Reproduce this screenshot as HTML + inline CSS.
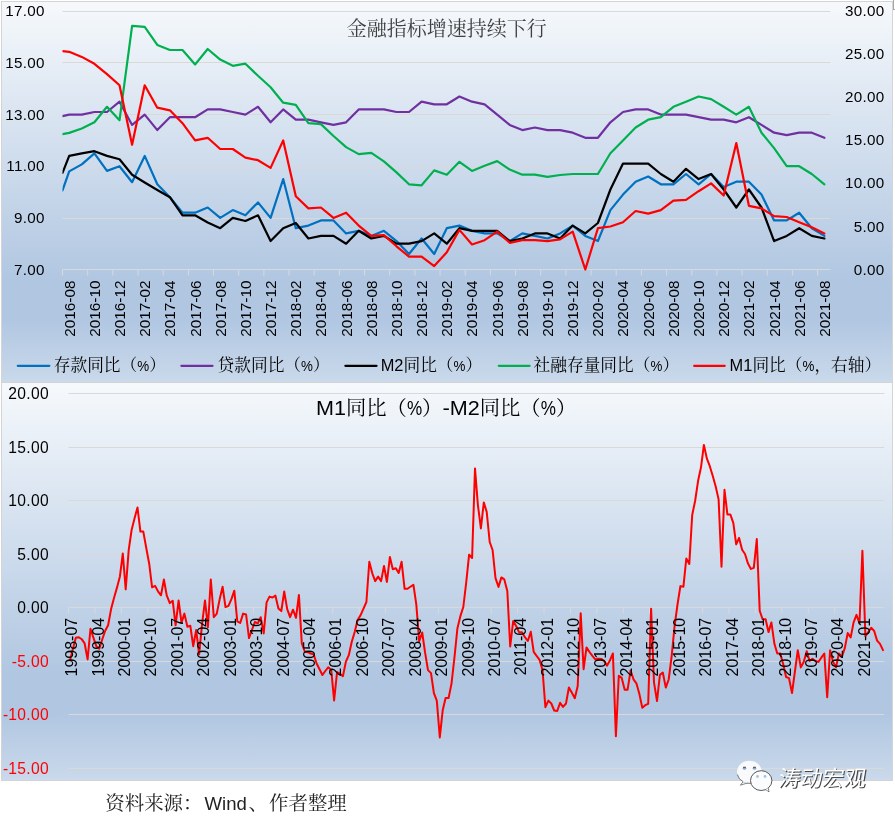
<!DOCTYPE html>
<html lang="zh-CN"><head><meta charset="utf-8"><title>金融指标增速持续下行</title>
<style>
html,body{margin:0;padding:0;background:#fff;}
body{width:895px;height:817px;position:relative;overflow:hidden;font-family:"Liberation Sans","Noto Sans CJK SC",sans-serif;}
.chart{position:absolute;left:1px;width:890px;border:1px solid #d4d4d4;
 background:linear-gradient(to bottom,#f6f9fc 0%,#b0c6e1 74%,#b0c6e1 83%,#cad9eb 100%);}
#c1{top:1px;height:380px;}
#c2{top:383px;height:397px;border-top:none;}
svg{position:absolute;left:0;top:0;}
.ax{font-family:"Liberation Sans",sans-serif;font-size:15.2px;fill:#000;}
.ay{letter-spacing:.3px;}
.neg{fill:#ff0000;}
.cj{font-family:"Liberation Serif","Noto Serif CJK SC",serif;}
.ln{fill:none;stroke-linejoin:round;stroke-linecap:round;}
</style></head><body>
<div class="chart" id="c1"></div>
<div class="chart" id="c2"></div>
<svg width="895" height="817" viewBox="0 0 895 817">

<rect x="893.5" y="-1" width="4" height="10.5" fill="#fff" stroke="#a6a6a6" stroke-width="1"/>
<line x1="62.5" y1="11.5" x2="830.4" y2="11.5" stroke="#d9d9d9" stroke-width="1"/>
<line x1="62.5" y1="62.5" x2="830.4" y2="62.5" stroke="#d9d9d9" stroke-width="1"/>
<line x1="62.5" y1="114.5" x2="830.4" y2="114.5" stroke="#d9d9d9" stroke-width="1"/>
<line x1="62.5" y1="166.5" x2="830.4" y2="166.5" stroke="#d9d9d9" stroke-width="1"/>
<line x1="62.5" y1="218.5" x2="830.4" y2="218.5" stroke="#d9d9d9" stroke-width="1"/>
<line x1="62.5" y1="269.5" x2="830.4" y2="269.5" stroke="#d9d9d9" stroke-width="1"/>
<line x1="62.5" y1="269.5" x2="62.5" y2="275.5" stroke="#d9d9d9" stroke-width="1"/>
<line x1="87.7" y1="269.5" x2="87.7" y2="275.5" stroke="#d9d9d9" stroke-width="1"/>
<line x1="112.8" y1="269.5" x2="112.8" y2="275.5" stroke="#d9d9d9" stroke-width="1"/>
<line x1="138.0" y1="269.5" x2="138.0" y2="275.5" stroke="#d9d9d9" stroke-width="1"/>
<line x1="163.2" y1="269.5" x2="163.2" y2="275.5" stroke="#d9d9d9" stroke-width="1"/>
<line x1="188.4" y1="269.5" x2="188.4" y2="275.5" stroke="#d9d9d9" stroke-width="1"/>
<line x1="213.5" y1="269.5" x2="213.5" y2="275.5" stroke="#d9d9d9" stroke-width="1"/>
<line x1="238.7" y1="269.5" x2="238.7" y2="275.5" stroke="#d9d9d9" stroke-width="1"/>
<line x1="263.9" y1="269.5" x2="263.9" y2="275.5" stroke="#d9d9d9" stroke-width="1"/>
<line x1="289.0" y1="269.5" x2="289.0" y2="275.5" stroke="#d9d9d9" stroke-width="1"/>
<line x1="314.2" y1="269.5" x2="314.2" y2="275.5" stroke="#d9d9d9" stroke-width="1"/>
<line x1="339.4" y1="269.5" x2="339.4" y2="275.5" stroke="#d9d9d9" stroke-width="1"/>
<line x1="364.5" y1="269.5" x2="364.5" y2="275.5" stroke="#d9d9d9" stroke-width="1"/>
<line x1="389.7" y1="269.5" x2="389.7" y2="275.5" stroke="#d9d9d9" stroke-width="1"/>
<line x1="414.9" y1="269.5" x2="414.9" y2="275.5" stroke="#d9d9d9" stroke-width="1"/>
<line x1="440.1" y1="269.5" x2="440.1" y2="275.5" stroke="#d9d9d9" stroke-width="1"/>
<line x1="465.2" y1="269.5" x2="465.2" y2="275.5" stroke="#d9d9d9" stroke-width="1"/>
<line x1="490.4" y1="269.5" x2="490.4" y2="275.5" stroke="#d9d9d9" stroke-width="1"/>
<line x1="515.6" y1="269.5" x2="515.6" y2="275.5" stroke="#d9d9d9" stroke-width="1"/>
<line x1="540.7" y1="269.5" x2="540.7" y2="275.5" stroke="#d9d9d9" stroke-width="1"/>
<line x1="565.9" y1="269.5" x2="565.9" y2="275.5" stroke="#d9d9d9" stroke-width="1"/>
<line x1="591.1" y1="269.5" x2="591.1" y2="275.5" stroke="#d9d9d9" stroke-width="1"/>
<line x1="616.2" y1="269.5" x2="616.2" y2="275.5" stroke="#d9d9d9" stroke-width="1"/>
<line x1="641.4" y1="269.5" x2="641.4" y2="275.5" stroke="#d9d9d9" stroke-width="1"/>
<line x1="666.6" y1="269.5" x2="666.6" y2="275.5" stroke="#d9d9d9" stroke-width="1"/>
<line x1="691.8" y1="269.5" x2="691.8" y2="275.5" stroke="#d9d9d9" stroke-width="1"/>
<line x1="716.9" y1="269.5" x2="716.9" y2="275.5" stroke="#d9d9d9" stroke-width="1"/>
<line x1="742.1" y1="269.5" x2="742.1" y2="275.5" stroke="#d9d9d9" stroke-width="1"/>
<line x1="767.3" y1="269.5" x2="767.3" y2="275.5" stroke="#d9d9d9" stroke-width="1"/>
<line x1="792.4" y1="269.5" x2="792.4" y2="275.5" stroke="#d9d9d9" stroke-width="1"/>
<line x1="817.6" y1="269.5" x2="817.6" y2="275.5" stroke="#d9d9d9" stroke-width="1"/>
<text class="ax ay" x="44.7" y="16.3" text-anchor="end">17.00</text>
<text class="ax ay" x="44.7" y="67.9" text-anchor="end">15.00</text>
<text class="ax ay" x="44.7" y="119.6" text-anchor="end">13.00</text>
<text class="ax ay" x="44.7" y="171.2" text-anchor="end">11.00</text>
<text class="ax ay" x="44.7" y="222.9" text-anchor="end">9.00</text>
<text class="ax ay" x="44.7" y="274.5" text-anchor="end">7.00</text>
<text class="ax ay" x="884.6" y="16.3" text-anchor="end">30.00</text>
<text class="ax ay" x="884.6" y="59.3" text-anchor="end">25.00</text>
<text class="ax ay" x="884.6" y="102.4" text-anchor="end">20.00</text>
<text class="ax ay" x="884.6" y="145.4" text-anchor="end">15.00</text>
<text class="ax ay" x="884.6" y="188.4" text-anchor="end">10.00</text>
<text class="ax ay" x="884.6" y="231.5" text-anchor="end">5.00</text>
<text class="ax ay" x="884.6" y="274.5" text-anchor="end">0.00</text>
<text class="ax" style="font-size:15.3px" transform="translate(74.6,280.6) rotate(-90)" text-anchor="end">2016-08</text>
<text class="ax" style="font-size:15.3px" transform="translate(99.8,280.6) rotate(-90)" text-anchor="end">2016-10</text>
<text class="ax" style="font-size:15.3px" transform="translate(124.9,280.6) rotate(-90)" text-anchor="end">2016-12</text>
<text class="ax" style="font-size:15.3px" transform="translate(150.1,280.6) rotate(-90)" text-anchor="end">2017-02</text>
<text class="ax" style="font-size:15.3px" transform="translate(175.3,280.6) rotate(-90)" text-anchor="end">2017-04</text>
<text class="ax" style="font-size:15.3px" transform="translate(200.5,280.6) rotate(-90)" text-anchor="end">2017-06</text>
<text class="ax" style="font-size:15.3px" transform="translate(225.6,280.6) rotate(-90)" text-anchor="end">2017-08</text>
<text class="ax" style="font-size:15.3px" transform="translate(250.8,280.6) rotate(-90)" text-anchor="end">2017-10</text>
<text class="ax" style="font-size:15.3px" transform="translate(276.0,280.6) rotate(-90)" text-anchor="end">2017-12</text>
<text class="ax" style="font-size:15.3px" transform="translate(301.2,280.6) rotate(-90)" text-anchor="end">2018-02</text>
<text class="ax" style="font-size:15.3px" transform="translate(326.3,280.6) rotate(-90)" text-anchor="end">2018-04</text>
<text class="ax" style="font-size:15.3px" transform="translate(351.5,280.6) rotate(-90)" text-anchor="end">2018-06</text>
<text class="ax" style="font-size:15.3px" transform="translate(376.7,280.6) rotate(-90)" text-anchor="end">2018-08</text>
<text class="ax" style="font-size:15.3px" transform="translate(401.9,280.6) rotate(-90)" text-anchor="end">2018-10</text>
<text class="ax" style="font-size:15.3px" transform="translate(427.0,280.6) rotate(-90)" text-anchor="end">2018-12</text>
<text class="ax" style="font-size:15.3px" transform="translate(452.2,280.6) rotate(-90)" text-anchor="end">2019-02</text>
<text class="ax" style="font-size:15.3px" transform="translate(477.4,280.6) rotate(-90)" text-anchor="end">2019-04</text>
<text class="ax" style="font-size:15.3px" transform="translate(502.6,280.6) rotate(-90)" text-anchor="end">2019-06</text>
<text class="ax" style="font-size:15.3px" transform="translate(527.7,280.6) rotate(-90)" text-anchor="end">2019-08</text>
<text class="ax" style="font-size:15.3px" transform="translate(552.9,280.6) rotate(-90)" text-anchor="end">2019-10</text>
<text class="ax" style="font-size:15.3px" transform="translate(578.1,280.6) rotate(-90)" text-anchor="end">2019-12</text>
<text class="ax" style="font-size:15.3px" transform="translate(603.3,280.6) rotate(-90)" text-anchor="end">2020-02</text>
<text class="ax" style="font-size:15.3px" transform="translate(628.4,280.6) rotate(-90)" text-anchor="end">2020-04</text>
<text class="ax" style="font-size:15.3px" transform="translate(653.6,280.6) rotate(-90)" text-anchor="end">2020-06</text>
<text class="ax" style="font-size:15.3px" transform="translate(678.8,280.6) rotate(-90)" text-anchor="end">2020-08</text>
<text class="ax" style="font-size:15.3px" transform="translate(704.0,280.6) rotate(-90)" text-anchor="end">2020-10</text>
<text class="ax" style="font-size:15.3px" transform="translate(729.1,280.6) rotate(-90)" text-anchor="end">2020-12</text>
<text class="ax" style="font-size:15.3px" transform="translate(754.3,280.6) rotate(-90)" text-anchor="end">2021-02</text>
<text class="ax" style="font-size:15.3px" transform="translate(779.5,280.6) rotate(-90)" text-anchor="end">2021-04</text>
<text class="ax" style="font-size:15.3px" transform="translate(804.6,280.6) rotate(-90)" text-anchor="end">2021-06</text>
<text class="ax" style="font-size:15.3px" transform="translate(829.8,280.6) rotate(-90)" text-anchor="end">2021-08</text>
<clipPath id="cp1"><rect x="62.5" y="0" width="800" height="300"/></clipPath><g clip-path="url(#cp1)">
<polyline class="ln" stroke="#0070c0" stroke-width="2.2" points="62.5,190.5 69.2,171.4 81.8,164.4 94.4,153.3 107.0,170.9 119.5,166.2 132.1,182.2 144.7,155.9 157.3,184.3 169.9,197.2 182.5,212.7 195.1,212.7 207.7,207.5 220.2,217.9 232.8,210.1 245.4,215.3 258.0,202.4 270.6,217.9 283.2,179.1 295.8,228.2 308.4,225.6 320.9,220.4 333.5,220.4 346.1,233.4 358.7,230.8 371.3,235.9 383.9,230.8 396.5,241.1 409.0,254.0 421.6,238.5 434.2,254.0 446.8,228.2 459.4,225.6 472.0,230.8 484.6,233.4 497.2,233.4 509.7,241.1 522.3,233.4 534.9,235.9 547.5,238.5 560.1,233.4 572.7,225.6 585.3,235.9 597.9,241.1 610.4,210.1 623.0,194.6 635.6,181.7 648.2,176.5 660.8,184.3 673.4,184.3 686.0,174.0 698.6,184.3 711.1,174.0 723.7,186.9 736.3,181.7 748.9,181.7 761.5,194.6 774.1,220.4 786.7,220.4 799.2,212.7 811.8,228.2 824.4,235.9"/>
<polyline class="ln" stroke="#7030a0" stroke-width="2.2" points="62.5,116.1 69.2,114.6 81.8,114.6 94.4,112.0 107.0,112.0 119.5,101.7 132.1,124.9 144.7,114.6 157.3,130.1 169.9,117.2 182.5,117.2 195.1,117.2 207.7,109.4 220.2,109.4 232.8,112.0 245.4,114.6 258.0,106.8 270.6,122.3 283.2,109.4 295.8,119.7 308.4,119.7 320.9,122.3 333.5,124.9 346.1,122.3 358.7,109.4 371.3,109.4 383.9,109.4 396.5,112.0 409.0,112.0 421.6,101.7 434.2,104.3 446.8,104.3 459.4,96.5 472.0,101.7 484.6,104.3 497.2,114.6 509.7,124.9 522.3,130.1 534.9,127.5 547.5,130.1 560.1,130.1 572.7,132.7 585.3,137.8 597.9,137.8 610.4,122.3 623.0,112.0 635.6,109.4 648.2,109.4 660.8,114.6 673.4,114.6 686.0,114.6 698.6,117.2 711.1,119.7 723.7,119.7 736.3,122.3 748.9,117.2 761.5,124.9 774.1,132.7 786.7,135.2 799.2,132.7 811.8,132.7 824.4,137.8"/>
<polyline class="ln" stroke="#000000" stroke-width="2.2" points="62.5,172.9 69.2,155.9 81.8,153.3 94.4,151.2 107.0,155.9 119.5,159.2 132.1,174.7 144.7,182.5 157.3,190.0 169.9,197.2 182.5,215.3 195.1,215.3 207.7,222.5 220.2,228.2 232.8,217.9 245.4,221.0 258.0,215.3 270.6,241.1 283.2,228.2 295.8,223.0 308.4,238.5 320.9,235.9 333.5,235.9 346.1,243.7 358.7,230.8 371.3,238.5 383.9,235.9 396.5,243.7 409.0,243.7 421.6,241.1 434.2,233.4 446.8,243.7 459.4,228.2 472.0,230.8 484.6,230.8 497.2,230.8 509.7,241.1 522.3,238.5 534.9,233.4 547.5,233.4 560.1,238.5 572.7,225.6 585.3,233.4 597.9,223.0 610.4,189.5 623.0,163.6 635.6,163.6 648.2,163.6 660.8,174.0 673.4,181.7 686.0,168.8 698.6,179.1 711.1,174.0 723.7,189.5 736.3,207.5 748.9,189.5 761.5,207.5 774.1,241.1 786.7,235.9 799.2,228.2 811.8,235.9 824.4,238.5"/>
<polyline class="ln" stroke="#00b050" stroke-width="2.2" points="62.5,134.2 69.2,132.9 81.8,128.5 94.4,122.3 107.0,106.8 119.5,120.3 132.1,25.8 144.7,26.8 157.3,44.9 169.9,50.0 182.5,50.0 195.1,64.5 207.7,49.0 220.2,59.6 232.8,65.8 245.4,63.7 258.0,75.8 270.6,87.2 283.2,102.7 295.8,104.8 308.4,123.1 320.9,124.1 333.5,136.0 346.1,147.1 358.7,154.1 371.3,152.8 383.9,161.3 396.5,172.4 409.0,184.3 421.6,185.3 434.2,170.4 446.8,174.7 459.4,161.8 472.0,170.9 484.6,165.7 497.2,161.1 509.7,169.6 522.3,174.7 534.9,174.7 547.5,176.8 560.1,175.0 572.7,174.0 585.3,174.0 597.9,174.0 610.4,153.3 623.0,140.4 635.6,127.5 648.2,119.7 660.8,117.2 673.4,106.8 686.0,101.7 698.6,96.5 711.1,99.1 723.7,106.8 736.3,114.6 748.9,106.8 761.5,132.7 774.1,148.1 786.7,166.2 799.2,166.2 811.8,174.0 824.4,184.3"/>
<polyline class="ln" stroke="#ff0000" stroke-width="2.2" points="62.5,51.1 69.2,51.8 81.8,56.9 94.4,63.8 107.0,74.1 119.5,85.3 132.1,144.7 144.7,85.3 157.3,107.7 169.9,110.3 182.5,123.2 195.1,140.4 207.7,137.8 220.2,149.0 232.8,149.0 245.4,157.6 258.0,160.2 270.6,167.9 283.2,140.4 295.8,196.3 308.4,208.4 320.9,207.5 333.5,217.9 346.1,212.7 358.7,225.6 371.3,235.9 383.9,235.1 396.5,246.3 409.0,256.6 421.6,256.6 434.2,266.1 446.8,252.3 459.4,229.9 472.0,244.5 484.6,240.2 497.2,231.6 509.7,242.8 522.3,240.2 534.9,240.2 547.5,241.1 560.1,239.4 572.7,231.6 585.3,269.5 597.9,228.2 610.4,226.5 623.0,222.2 635.6,211.0 648.2,213.6 660.8,210.1 673.4,200.6 686.0,199.8 698.6,191.2 711.1,183.4 723.7,195.5 736.3,143.0 748.9,205.8 761.5,208.4 774.1,216.1 786.7,217.0 799.2,222.2 811.8,227.3 824.4,233.4"/>
</g>
<text class="cj" x="446.8" y="35.6" font-size="20" fill="#404040" text-anchor="middle">金融指标增速持续下行</text>
<line x1="17.8" y1="365.8" x2="49.3" y2="365.8" stroke="#0070c0" stroke-width="2.3" stroke-linecap="round"/>
<text class="cj" x="53.8" y="371.3" font-size="16.70" fill="#000">存款同比（</text>
<text x="137.3" y="371.3" font-family='"Liberation Sans",sans-serif' font-size="15.00" fill="#000" textLength="11.9" lengthAdjust="spacingAndGlyphs">%</text>
<text class="cj" x="149.2" y="371.3" font-size="16.70" fill="#000">）</text>
<line x1="181.4" y1="365.8" x2="212.5" y2="365.8" stroke="#7030a0" stroke-width="2.3" stroke-linecap="round"/>
<text class="cj" x="217.6" y="371.3" font-size="16.70" fill="#000">贷款同比（</text>
<text x="301.1" y="371.3" font-family='"Liberation Sans",sans-serif' font-size="15.00" fill="#000" textLength="11.9" lengthAdjust="spacingAndGlyphs">%</text>
<text class="cj" x="313.0" y="371.3" font-size="16.70" fill="#000">）</text>
<line x1="345.4" y1="365.8" x2="376.5" y2="365.8" stroke="#000000" stroke-width="2.3" stroke-linecap="round"/>
<text x="380.7" y="371.3" font-family='"Liberation Sans",sans-serif' font-size="15.60" fill="#000" textLength="22.8" lengthAdjust="spacingAndGlyphs">M2</text>
<text class="cj" x="403.5" y="371.3" font-size="16.70" fill="#000">同比（</text>
<text x="453.6" y="371.3" font-family='"Liberation Sans",sans-serif' font-size="15.00" fill="#000" textLength="11.9" lengthAdjust="spacingAndGlyphs">%</text>
<text class="cj" x="465.5" y="371.3" font-size="16.70" fill="#000">）</text>
<line x1="498.8" y1="365.8" x2="529.6" y2="365.8" stroke="#00b050" stroke-width="2.3" stroke-linecap="round"/>
<text class="cj" x="533.6" y="371.3" font-size="16.70" fill="#000">社融存量同比（</text>
<text x="650.5" y="371.3" font-family='"Liberation Sans",sans-serif' font-size="15.00" fill="#000" textLength="11.9" lengthAdjust="spacingAndGlyphs">%</text>
<text class="cj" x="662.4" y="371.3" font-size="16.70" fill="#000">）</text>
<line x1="694.2" y1="365.8" x2="724.7" y2="365.8" stroke="#ff0000" stroke-width="2.3" stroke-linecap="round"/>
<text x="729.6" y="371.3" font-family='"Liberation Sans",sans-serif' font-size="15.60" fill="#000" textLength="22.8" lengthAdjust="spacingAndGlyphs">M1</text>
<text class="cj" x="752.4" y="371.3" font-size="16.70" fill="#000">同比（</text>
<text x="802.5" y="371.3" font-family='"Liberation Sans",sans-serif' font-size="15.00" fill="#000" textLength="11.9" lengthAdjust="spacingAndGlyphs">%</text>
<text class="cj" x="814.4" y="371.3" font-size="16.70" fill="#000">，右轴）</text>
<line x1="68.5" y1="393.5" x2="884.3" y2="393.5" stroke="#d9d9d9" stroke-width="1"/>
<line x1="68.5" y1="447.5" x2="884.3" y2="447.5" stroke="#d9d9d9" stroke-width="1"/>
<line x1="68.5" y1="500.5" x2="884.3" y2="500.5" stroke="#d9d9d9" stroke-width="1"/>
<line x1="68.5" y1="554.5" x2="884.3" y2="554.5" stroke="#d9d9d9" stroke-width="1"/>
<line x1="68.5" y1="661.5" x2="884.3" y2="661.5" stroke="#d9d9d9" stroke-width="1"/>
<line x1="68.5" y1="714.5" x2="884.3" y2="714.5" stroke="#d9d9d9" stroke-width="1"/>
<line x1="68.5" y1="768.5" x2="884.3" y2="768.5" stroke="#d9d9d9" stroke-width="1"/>
<line x1="68.5" y1="607.5" x2="884.3" y2="607.5" stroke="#d9d9d9" stroke-width="1"/>
<line x1="68.5" y1="607.5" x2="68.5" y2="613.5" stroke="#d9d9d9" stroke-width="1"/>
<line x1="94.9" y1="607.5" x2="94.9" y2="613.5" stroke="#d9d9d9" stroke-width="1"/>
<line x1="121.3" y1="607.5" x2="121.3" y2="613.5" stroke="#d9d9d9" stroke-width="1"/>
<line x1="147.8" y1="607.5" x2="147.8" y2="613.5" stroke="#d9d9d9" stroke-width="1"/>
<line x1="174.2" y1="607.5" x2="174.2" y2="613.5" stroke="#d9d9d9" stroke-width="1"/>
<line x1="200.6" y1="607.5" x2="200.6" y2="613.5" stroke="#d9d9d9" stroke-width="1"/>
<line x1="227.0" y1="607.5" x2="227.0" y2="613.5" stroke="#d9d9d9" stroke-width="1"/>
<line x1="253.4" y1="607.5" x2="253.4" y2="613.5" stroke="#d9d9d9" stroke-width="1"/>
<line x1="279.9" y1="607.5" x2="279.9" y2="613.5" stroke="#d9d9d9" stroke-width="1"/>
<line x1="306.3" y1="607.5" x2="306.3" y2="613.5" stroke="#d9d9d9" stroke-width="1"/>
<line x1="332.7" y1="607.5" x2="332.7" y2="613.5" stroke="#d9d9d9" stroke-width="1"/>
<line x1="359.1" y1="607.5" x2="359.1" y2="613.5" stroke="#d9d9d9" stroke-width="1"/>
<line x1="385.5" y1="607.5" x2="385.5" y2="613.5" stroke="#d9d9d9" stroke-width="1"/>
<line x1="412.0" y1="607.5" x2="412.0" y2="613.5" stroke="#d9d9d9" stroke-width="1"/>
<line x1="438.4" y1="607.5" x2="438.4" y2="613.5" stroke="#d9d9d9" stroke-width="1"/>
<line x1="464.8" y1="607.5" x2="464.8" y2="613.5" stroke="#d9d9d9" stroke-width="1"/>
<line x1="491.2" y1="607.5" x2="491.2" y2="613.5" stroke="#d9d9d9" stroke-width="1"/>
<line x1="517.6" y1="607.5" x2="517.6" y2="613.5" stroke="#d9d9d9" stroke-width="1"/>
<line x1="544.1" y1="607.5" x2="544.1" y2="613.5" stroke="#d9d9d9" stroke-width="1"/>
<line x1="570.5" y1="607.5" x2="570.5" y2="613.5" stroke="#d9d9d9" stroke-width="1"/>
<line x1="596.9" y1="607.5" x2="596.9" y2="613.5" stroke="#d9d9d9" stroke-width="1"/>
<line x1="623.3" y1="607.5" x2="623.3" y2="613.5" stroke="#d9d9d9" stroke-width="1"/>
<line x1="649.7" y1="607.5" x2="649.7" y2="613.5" stroke="#d9d9d9" stroke-width="1"/>
<line x1="676.2" y1="607.5" x2="676.2" y2="613.5" stroke="#d9d9d9" stroke-width="1"/>
<line x1="702.6" y1="607.5" x2="702.6" y2="613.5" stroke="#d9d9d9" stroke-width="1"/>
<line x1="729.0" y1="607.5" x2="729.0" y2="613.5" stroke="#d9d9d9" stroke-width="1"/>
<line x1="755.4" y1="607.5" x2="755.4" y2="613.5" stroke="#d9d9d9" stroke-width="1"/>
<line x1="781.8" y1="607.5" x2="781.8" y2="613.5" stroke="#d9d9d9" stroke-width="1"/>
<line x1="808.3" y1="607.5" x2="808.3" y2="613.5" stroke="#d9d9d9" stroke-width="1"/>
<line x1="834.7" y1="607.5" x2="834.7" y2="613.5" stroke="#d9d9d9" stroke-width="1"/>
<line x1="861.1" y1="607.5" x2="861.1" y2="613.5" stroke="#d9d9d9" stroke-width="1"/>
<polyline class="ln" stroke="#ff0000" stroke-width="2" points="70.0,660.4 72.9,649.0 75.8,637.7 78.8,637.2 81.7,639.2 84.6,643.3 87.6,659.4 90.5,628.7 93.4,637.7 96.4,646.3 99.3,648.8 102.3,639.2 105.2,630.7 108.1,625.2 111.1,609.1 114.0,598.0 116.9,587.9 119.9,576.5 122.8,553.6 125.7,589.3 128.7,550.2 131.6,530.0 134.5,518.6 137.5,507.4 140.4,531.6 143.3,531.6 146.3,548.2 149.2,563.7 152.1,587.3 155.1,585.9 158.0,591.3 161.0,595.3 163.9,579.5 166.8,595.7 169.8,603.1 172.7,600.7 175.6,625.3 178.6,600.4 181.5,622.6 184.4,613.6 187.4,626.7 190.3,625.7 193.2,646.2 196.2,630.0 199.1,654.3 202.0,624.6 205.0,600.4 207.9,627.3 210.8,579.5 213.8,617.2 216.7,613.9 219.7,599.1 222.6,586.7 225.5,607.1 228.5,605.8 231.4,599.1 234.3,590.7 237.3,621.3 240.2,623.0 243.1,613.6 246.1,614.5 249.0,638.1 251.9,630.0 254.9,622.0 257.8,623.3 260.7,617.2 263.7,633.4 266.6,602.4 269.5,596.6 272.5,597.5 275.4,595.5 278.4,608.4 281.3,611.1 284.2,591.5 287.2,609.1 290.1,617.1 293.0,609.7 296.0,617.8 298.9,594.9 301.8,643.4 304.8,651.5 307.7,652.2 310.6,653.5 313.6,654.2 316.5,663.3 319.4,669.0 322.4,675.0 325.3,671.0 328.2,667.3 331.2,669.7 334.1,700.4 337.1,672.0 340.0,673.7 342.9,676.2 345.9,661.6 348.8,655.2 351.7,642.0 354.7,632.0 357.6,620.0 360.5,615.4 363.5,608.7 366.4,602.0 369.3,561.8 372.3,573.3 375.2,581.1 378.1,576.6 381.1,581.1 384.0,565.9 386.9,582.0 389.9,556.9 392.8,569.2 395.8,568.2 398.7,573.0 401.6,561.8 404.6,588.8 407.5,588.8 410.4,586.8 413.4,584.7 416.3,604.3 419.2,641.3 422.2,632.5 425.1,652.7 428.0,670.1 431.0,673.1 433.9,693.2 436.8,700.7 439.8,737.4 442.7,710.3 445.6,698.0 448.6,698.0 451.5,683.6 454.5,657.0 457.4,628.5 460.3,616.4 463.3,607.0 466.2,582.7 469.1,554.7 472.1,558.0 475.0,468.4 477.9,505.1 480.9,528.4 483.8,502.4 486.7,511.9 489.7,542.0 492.6,550.0 495.5,578.1 498.5,586.9 501.4,577.4 504.3,579.4 507.3,590.9 510.2,646.5 513.2,621.0 516.1,626.0 519.0,632.2 522.0,632.3 524.9,637.2 527.8,641.0 530.8,631.8 533.7,651.9 536.6,655.9 539.6,659.9 542.5,670.0 545.4,707.2 548.4,700.6 551.3,703.5 554.2,710.5 557.2,711.0 560.1,702.8 563.0,706.9 566.0,703.5 568.9,687.4 571.9,692.8 574.8,698.2 577.7,686.0 580.7,613.3 583.6,669.2 586.5,647.4 589.5,652.0 592.4,655.9 595.3,659.4 598.3,658.8 601.2,658.9 604.1,660.9 607.1,665.6 610.0,660.2 612.9,653.5 615.9,736.3 618.8,675.7 621.7,677.9 624.7,689.7 627.6,689.7 630.6,670.5 633.5,679.3 636.4,683.3 639.4,694.1 642.3,707.8 645.2,705.2 648.2,703.8 651.1,608.8 654.0,682.3 657.0,701.1 659.9,674.8 662.8,672.5 665.8,687.6 668.7,679.5 671.6,656.6 674.6,626.0 677.5,604.5 680.4,586.1 683.4,586.8 686.3,558.5 689.3,563.9 692.2,515.0 695.1,501.0 698.1,480.8 701.0,467.3 703.9,444.9 706.9,458.7 709.8,466.2 712.7,475.8 715.7,486.5 718.6,499.4 721.5,566.8 724.5,489.8 727.4,514.4 730.3,514.4 733.3,522.9 736.2,544.3 739.1,537.9 742.1,549.7 745.0,554.0 748.0,563.6 750.9,568.9 753.8,567.9 756.8,539.0 759.7,610.7 762.6,619.2 765.6,619.2 768.5,632.1 771.4,622.4 774.4,643.8 777.3,653.5 780.2,653.5 783.2,664.2 786.1,677.0 789.0,678.1 792.0,693.1 794.9,671.7 797.8,650.2 800.8,667.4 803.7,662.0 806.7,651.3 809.6,661.0 812.5,658.8 815.5,661.0 818.4,662.0 821.3,657.7 824.3,653.5 827.2,697.3 830.1,650.2 833.1,662.0 836.0,667.4 838.9,653.5 841.9,656.7 844.8,648.1 847.7,633.1 850.7,637.4 853.6,622.4 856.5,614.9 859.5,623.5 862.4,550.7 865.4,636.3 868.3,632.1 871.2,627.8 874.2,631.0 877.1,640.6 880.0,643.8 883.0,650.2"/>
<text class="ax ay" style="font-size:15.6px" x="48.9" y="398.8" text-anchor="end">20.00</text>
<text class="ax ay" style="font-size:15.6px" x="48.9" y="452.8" text-anchor="end">15.00</text>
<text class="ax ay" style="font-size:15.6px" x="48.9" y="505.8" text-anchor="end">10.00</text>
<text class="ax ay" style="font-size:15.6px" x="48.9" y="559.8" text-anchor="end">5.00</text>
<text class="ax ay" style="font-size:15.6px" x="48.9" y="612.8" text-anchor="end">0.00</text>
<text class="ax neg ay" style="font-size:15.6px" x="48.9" y="666.8" text-anchor="end">-5.00</text>
<text class="ax neg ay" style="font-size:15.6px" x="48.9" y="719.8" text-anchor="end">-10.00</text>
<text class="ax neg ay" style="font-size:15.6px" x="48.9" y="773.8" text-anchor="end">-15.00</text>
<text class="ax" style="font-size:16px" transform="translate(77.1,617.8) rotate(-90)" text-anchor="end">1998-07</text>
<text class="ax" style="font-size:16px" transform="translate(103.6,617.8) rotate(-90)" text-anchor="end">1999-04</text>
<text class="ax" style="font-size:16px" transform="translate(130.0,617.8) rotate(-90)" text-anchor="end">2000-01</text>
<text class="ax" style="font-size:16px" transform="translate(156.4,617.8) rotate(-90)" text-anchor="end">2000-10</text>
<text class="ax" style="font-size:16px" transform="translate(182.8,617.8) rotate(-90)" text-anchor="end">2001-07</text>
<text class="ax" style="font-size:16px" transform="translate(209.3,617.8) rotate(-90)" text-anchor="end">2002-04</text>
<text class="ax" style="font-size:16px" transform="translate(235.7,617.8) rotate(-90)" text-anchor="end">2003-01</text>
<text class="ax" style="font-size:16px" transform="translate(262.1,617.8) rotate(-90)" text-anchor="end">2003-10</text>
<text class="ax" style="font-size:16px" transform="translate(288.5,617.8) rotate(-90)" text-anchor="end">2004-07</text>
<text class="ax" style="font-size:16px" transform="translate(314.9,617.8) rotate(-90)" text-anchor="end">2005-04</text>
<text class="ax" style="font-size:16px" transform="translate(341.4,617.8) rotate(-90)" text-anchor="end">2006-01</text>
<text class="ax" style="font-size:16px" transform="translate(367.8,617.8) rotate(-90)" text-anchor="end">2006-10</text>
<text class="ax" style="font-size:16px" transform="translate(394.2,617.8) rotate(-90)" text-anchor="end">2007-07</text>
<text class="ax" style="font-size:16px" transform="translate(420.6,617.8) rotate(-90)" text-anchor="end">2008-04</text>
<text class="ax" style="font-size:16px" transform="translate(447.0,617.8) rotate(-90)" text-anchor="end">2009-01</text>
<text class="ax" style="font-size:16px" transform="translate(473.5,617.8) rotate(-90)" text-anchor="end">2009-10</text>
<text class="ax" style="font-size:16px" transform="translate(499.9,617.8) rotate(-90)" text-anchor="end">2010-07</text>
<text class="ax" style="font-size:16px" transform="translate(526.3,617.8) rotate(-90)" text-anchor="end">2011-04</text>
<text class="ax" style="font-size:16px" transform="translate(552.7,617.8) rotate(-90)" text-anchor="end">2012-01</text>
<text class="ax" style="font-size:16px" transform="translate(579.1,617.8) rotate(-90)" text-anchor="end">2012-10</text>
<text class="ax" style="font-size:16px" transform="translate(605.6,617.8) rotate(-90)" text-anchor="end">2013-07</text>
<text class="ax" style="font-size:16px" transform="translate(632.0,617.8) rotate(-90)" text-anchor="end">2014-04</text>
<text class="ax" style="font-size:16px" transform="translate(658.4,617.8) rotate(-90)" text-anchor="end">2015-01</text>
<text class="ax" style="font-size:16px" transform="translate(684.8,617.8) rotate(-90)" text-anchor="end">2015-10</text>
<text class="ax" style="font-size:16px" transform="translate(711.2,617.8) rotate(-90)" text-anchor="end">2016-07</text>
<text class="ax" style="font-size:16px" transform="translate(737.6,617.8) rotate(-90)" text-anchor="end">2017-04</text>
<text class="ax" style="font-size:16px" transform="translate(764.1,617.8) rotate(-90)" text-anchor="end">2018-01</text>
<text class="ax" style="font-size:16px" transform="translate(790.5,617.8) rotate(-90)" text-anchor="end">2018-10</text>
<text class="ax" style="font-size:16px" transform="translate(816.9,617.8) rotate(-90)" text-anchor="end">2019-07</text>
<text class="ax" style="font-size:16px" transform="translate(843.3,617.8) rotate(-90)" text-anchor="end">2020-04</text>
<text class="ax" style="font-size:16px" transform="translate(869.8,617.8) rotate(-90)" text-anchor="end">2021-01</text>
<text x="316.0" y="415.3" font-family='"Liberation Sans",sans-serif' font-size="20.00" fill="#000" textLength="30.0" lengthAdjust="spacingAndGlyphs">M1</text>
<text class="cj" x="346.0" y="415.3" font-size="20.30" fill="#000">同比（</text>
<text x="406.9" y="415.3" font-family='"Liberation Sans",sans-serif' font-size="20.00" fill="#000" textLength="15.2" lengthAdjust="spacingAndGlyphs">%</text>
<text class="cj" x="422.1" y="415.3" font-size="20.30" fill="#000">）</text>
<text x="442.4" y="415.3" font-family='"Liberation Sans",sans-serif' font-size="20.00" fill="#000" textLength="7.4" lengthAdjust="spacingAndGlyphs">-</text>
<text x="449.8" y="415.3" font-family='"Liberation Sans",sans-serif' font-size="20.00" fill="#000" textLength="30.0" lengthAdjust="spacingAndGlyphs">M2</text>
<text class="cj" x="479.8" y="415.3" font-size="20.30" fill="#000">同比（</text>
<text x="540.7" y="415.3" font-family='"Liberation Sans",sans-serif' font-size="20.00" fill="#000" textLength="15.2" lengthAdjust="spacingAndGlyphs">%</text>
<text class="cj" x="555.9" y="415.3" font-size="20.30" fill="#000">）</text>
<text class="cj" x="105.3" y="809.8" font-size="19.45" fill="#222">资料来源：</text>
<text x="204.6" y="809.8" font-family='"Liberation Sans",sans-serif' font-size="18.60" fill="#222" textLength="42.3" lengthAdjust="spacingAndGlyphs">Wind</text>
<text class="cj" x="248.5" y="809.8" font-size="19.45" fill="#222">、</text>
<text class="cj" x="269.0" y="809.8" font-size="19.45" fill="#222">作者整理</text>
</svg>
<svg width="895" height="817" viewBox="0 0 895 817" style="pointer-events:none">
<g id="wm">
 <path d="M743.2,781.6 L740.4,785.2 L747.2,783.1 Z" fill="#f8fafc" stroke="#555" stroke-width=".7" stroke-linejoin="round"/>
 <ellipse cx="749.4" cy="772" rx="12.4" ry="11.3" fill="#f8fafc"/>
 <path d="M737.3,774.5 A12.4,11.3 0 0 0 743.2,781.8 M746.8,783.1 A12.4,11.3 0 0 0 751.5,783.2" fill="none" stroke="#555" stroke-width=".8"/>
 <path d="M765.3,789.4 L769.1,791.8 L767.9,787.6 Z" fill="#ffffff" stroke="#444" stroke-width=".7" stroke-linejoin="round"/>
 <ellipse cx="761.2" cy="780.6" rx="10.7" ry="9.9" fill="#fbfcfd" stroke="#444" stroke-width=".9"/>
 <path d="M765.6,788.9 L768.4,790.9 L767.5,787.9 Z" fill="#ffffff"/>
 <g fill="#8fa6c4"><ellipse cx="744.5" cy="768.2" rx="1.7" ry="1.5"/><ellipse cx="754.5" cy="768.2" rx="1.7" ry="1.5"/></g>
 <g fill="#4d5560"><rect x="743" y="766.8" width="3" height="1"/><rect x="753" y="766.8" width="3" height="1"/></g>
 <g fill="#a9c2e2"><circle cx="757.5" cy="776.5" r="1.4"/><circle cx="765" cy="776.5" r="1.4"/></g>
 <text x="0" y="0" font-family='"Noto Sans CJK SC","WenQuanYi Zen Hei",sans-serif' font-size="21.8" fill="#4a4a4a" transform="translate(778.8,787.2) skewX(-9)">涛动宏观</text>
 <text x="0" y="0" font-family='"Noto Sans CJK SC","WenQuanYi Zen Hei",sans-serif' font-size="21.8" fill="#ffffff" transform="translate(777.6,786) skewX(-9)">涛动宏观</text>
</g></svg>
</body></html>
